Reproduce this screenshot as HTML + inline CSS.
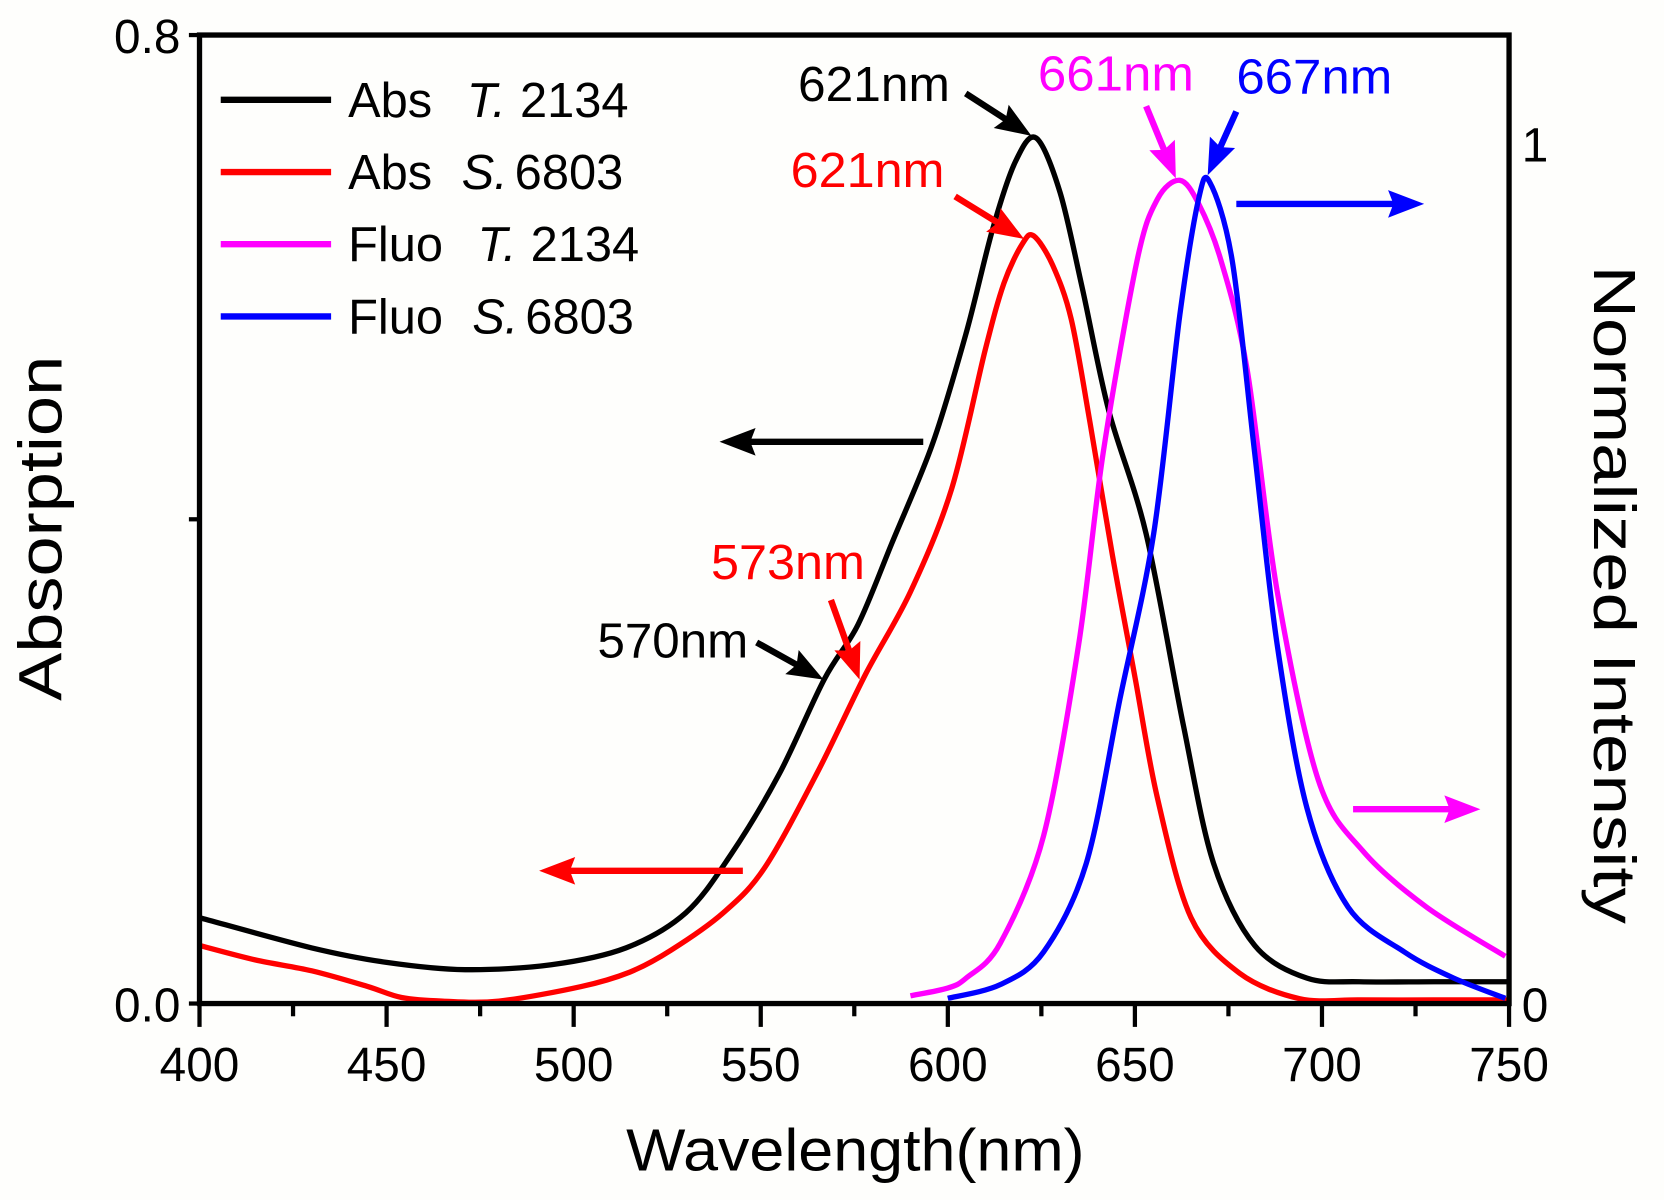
<!DOCTYPE html>
<html><head><meta charset="utf-8"><style>
html,body{margin:0;padding:0;background:#fff;}
svg{display:block;}
text{font-family:"Liberation Sans",Arial,sans-serif;}
</style></head><body>
<svg id="chart" width="1664" height="1200" viewBox="0 0 1568 1130" preserveAspectRatio="none" xmlns="http://www.w3.org/2000/svg">
<rect x="0" y="0" width="1568" height="1130" fill="#fefefc"/>
<g id="series"></g>
<g id="annot"></g>
<g id="axes"></g>
</svg>
<script>
// ---- data ----
const absTWl  = [400,430,450,471,494,514,530,542,555,567,576,585,596,605,612,618,623.6,630,636,643,653,663,671,682,696,710,730,750];
const absTVal = [0.071,0.046,0.034,0.028,0.032,0.046,0.075,0.123,0.19,0.268,0.313,0.38,0.463,0.555,0.64,0.695,0.715,0.67,0.59,0.49,0.388,0.229,0.116,0.048,0.021,0.018,0.018,0.018];
const absSWl  = [400,415,430,445,454,465,480,502,515,526,540,551,565,578,590,601,610,615,620,623,628,633,638,644,650,656,665,678,694,710,730,750];
const absSVal = [0.048,0.036,0.027,0.014,0.005,0.002,0.002,0.014,0.026,0.044,0.075,0.112,0.19,0.272,0.34,0.425,0.54,0.595,0.628,0.634,0.61,0.565,0.48,0.37,0.27,0.17,0.071,0.025,0.004,0.003,0.003,0.003];
const fluoTWl  = [590,600,605,614,625.6,635,641.5,650.6,656,662,667,673,680,688,699,711,728,749];
const fluoTVal = [0.009,0.018,0.03,0.07,0.195,0.418,0.64,0.864,0.935,0.957,0.93,0.864,0.737,0.48,0.26,0.177,0.112,0.055];
const fluoSWl  = [600,614,625.6,637,646,655,662,667,670,676,682,688,696,707,722,735,749];
const fluoSVal = [0.006,0.022,0.06,0.163,0.354,0.546,0.80,0.935,0.955,0.864,0.64,0.418,0.227,0.112,0.06,0.03,0.006];
const xTicks = [400,450,500,550,600,650,700,750];
const xTickLabels = ["400","450","500","550","600","650","700","750"];

// ---- axes functions ----
const L=188,R=1422,T=33,B=945;
const X = v => L + (v-400)*(R-L)/350;
const YL = v => B - v*(B-T)/0.8;
const YR = v => B - v*810;
const NS="http://www.w3.org/2000/svg";
function mk(tag, parent, attrs){const e=document.createElementNS(NS,tag);for(const k in attrs)e.setAttribute(k,attrs[k]);parent.appendChild(e);return e;}

const S=document.getElementById('series');
function smoothPath(P){
  let d='M'+P[0][0].toFixed(1)+','+P[0][1].toFixed(1);
  for(let i=0;i<P.length-1;i++){
    const p0=P[i-1]||P[i],p1=P[i],p2=P[i+1],p3=P[i+2]||P[i+1];
    const t=0.16;
    const c1=[p1[0]+(p2[0]-p0[0])*t,p1[1]+(p2[1]-p0[1])*t];
    const c2=[p2[0]-(p3[0]-p1[0])*t,p2[1]-(p3[1]-p1[1])*t];
    d+=` C${c1[0].toFixed(1)},${c1[1].toFixed(1)} ${c2[0].toFixed(1)},${c2[1].toFixed(1)} ${p2[0].toFixed(1)},${p2[1].toFixed(1)}`;
  }
  return d;
}
function drawLine(wl, vals, yf, color, name){
  const P = wl.map((w,i)=>[X(w), yf(vals[i])]);
  const p = mk('path', S, {d:smoothPath(P), fill:'none', stroke:color, 'stroke-width':5, 'stroke-linejoin':'round'});
  
  
}
drawLine(absTWl, absTVal, YL, '#000', 'abs-t2134-line');
drawLine(absSWl, absSVal, YL, '#ff0000', 'abs-s6803-line');
drawLine(fluoTWl, fluoTVal, YR, '#ff00ff', 'fluo-t2134-line');
drawLine(fluoSWl, fluoSVal, YR, '#0000ff', 'fluo-s6803-line');

// ---- axes ----
const A=document.getElementById('axes');
const frame = mk('rect', A, {x:L,y:T,width:R-L,height:B-T,fill:'none',stroke:'#000','stroke-width':5});


xTicks.forEach((t,i)=>{
  const tk = mk('line', A, {x1:X(t),x2:X(t),y1:B,y2:B+22,stroke:'#000','stroke-width':4});
  
  
  const lb = mk('text', A, {x:X(t),y:1018,'text-anchor':'middle','font-size':45});
  lb.textContent = xTickLabels[i];
  
  
  if(i<xTicks.length-1){
    const m = mk('line', A, {x1:X(t+25),x2:X(t+25),y1:B,y2:B+12,stroke:'#000','stroke-width':4});
    
    
  }
});
[[0.8,'0.8'],[0.4,null],[0,'0.0']].forEach(([v,s])=>{
  const tk = mk('line', A, {x1:L-10,x2:L,y1:YL(v),y2:YL(v),stroke:'#000','stroke-width':4});
  
  
  if(s){
    const lb = mk('text', A, {x:170,y:YL(v)+17,'text-anchor':'end','font-size':45});
    lb.textContent=s;
    
    
  }
});
[[1,'1'],[0,'0']].forEach(([v,s])=>{
  const lb = mk('text', A, {x:1434,y:YR(v)+17,'font-size':45});
  lb.textContent=s;
  
  
});
</script>
<script>
(function(){
const NS="http://www.w3.org/2000/svg";
const svg=document.getElementById('chart');
const g=document.getElementById('annot');
function mk(tag,parent,attrs){const e=document.createElementNS(NS,tag);for(const k in attrs)e.setAttribute(k,attrs[k]);parent.appendChild(e);return e;}
function arrow(x1,y1,x2,y2,color,name){
  const dx=x2-x1,dy=y2-y1,len=Math.hypot(dx,dy),ux=dx/len,uy=dy/len;
  const hl=34,hw=13;
  const bx=x2-ux*hl,by=y2-uy*hl;
  const grp=mk('g',g,{});
  
  
  mk('line',grp,{x1:x1,y1:y1,x2:bx+ux*8,y2:by+uy*8,stroke:color,'stroke-width':6});
  mk('polygon',grp,{points:`${x2},${y2} ${bx-uy*hw},${by+ux*hw} ${bx+ux*5},${by+uy*5} ${bx+uy*hw},${by-ux*hw}`,fill:color});
}
function txt(x,y,s,color,name,w){
  const t=mk('text',g,{x:x,y:y,fill:color,'font-size':46,textLength:w,lengthAdjust:'spacingAndGlyphs'});
  t.textContent=s;
  
  
  return t;
}
txt(752,95,'621nm','#000','peak-label-abs-t',143);
arrow(910,88,972,128,'#000','peak-arrow-abs-t');
txt(745,176,'621nm','#ff0000','peak-label-abs-s',145);
arrow(900,185,965,225,'#ff0000','peak-arrow-abs-s');
txt(978,85,'661nm','#ff00ff','peak-label-fluo-t',147);
arrow(1080,100,1108,168,'#ff00ff','peak-arrow-fluo-t');
txt(1165,88,'667nm','#0000ff','peak-label-fluo-s',147);
arrow(1165,105,1138,165,'#0000ff','peak-arrow-fluo-s');
txt(670,545,'573nm','#ff0000','shoulder-label-abs-s',145);
arrow(783,565,810,640,'#ff0000','shoulder-arrow-abs-s');
txt(563,619,'570nm','#000','shoulder-label-abs-t',142);
arrow(713,605,776,640,'#000','shoulder-arrow-abs-t');
arrow(1165,192,1342,192,'#0000ff','axis-arrow-fluo-s');
arrow(1275,762,1395,762,'#ff00ff','axis-arrow-fluo-t');
arrow(870,416,678,416,'#000','axis-arrow-abs-t');
arrow(700,820,508,820,'#ff0000','axis-arrow-abs-s');

// legend
const leg=mk('g',svg,{});


const entries=[['#000','Abs','T.','2134',440],['#ff0000','Abs','S.','6803',435],['#ff00ff','Fluo','T.','2134',450],['#0000ff','Fluo','S.','6803',445]];
entries.forEach((e,i)=>{
  const y=94+i*68;
  const eg=mk('g',leg,{});
  
  
  mk('line',eg,{x1:208,x2:312,y1:y,y2:y,stroke:e[0],'stroke-width':6});
  const t1=mk('text',eg,{x:328,y:y+16,'font-size':46});t1.textContent=e[1];
  const t2=mk('text',eg,{x:e[4],y:y+16,'font-size':46,'font-style':'italic'});t2.textContent=e[2];
  const t3=mk('text',eg,{x:e[4]+50,y:y+16,'font-size':46});t3.textContent=e[3];
});

// axis titles
const xt=mk('text',svg,{x:590,y:1102,'font-size':56,textLength:432,lengthAdjust:'spacingAndGlyphs'});
xt.textContent='Wavelength(nm)';


const yt=mk('text',svg,{x:0,y:0,'font-size':58,textLength:325,lengthAdjust:'spacingAndGlyphs',transform:'translate(58,660) rotate(-90)'});
yt.textContent='Absorption';


const yr=mk('text',svg,{x:0,y:0,'font-size':56,textLength:620,lengthAdjust:'spacingAndGlyphs',transform:'translate(1502,250) rotate(90)'});
yr.textContent='Normalized Intensity';


})();
</script>
</body></html>
